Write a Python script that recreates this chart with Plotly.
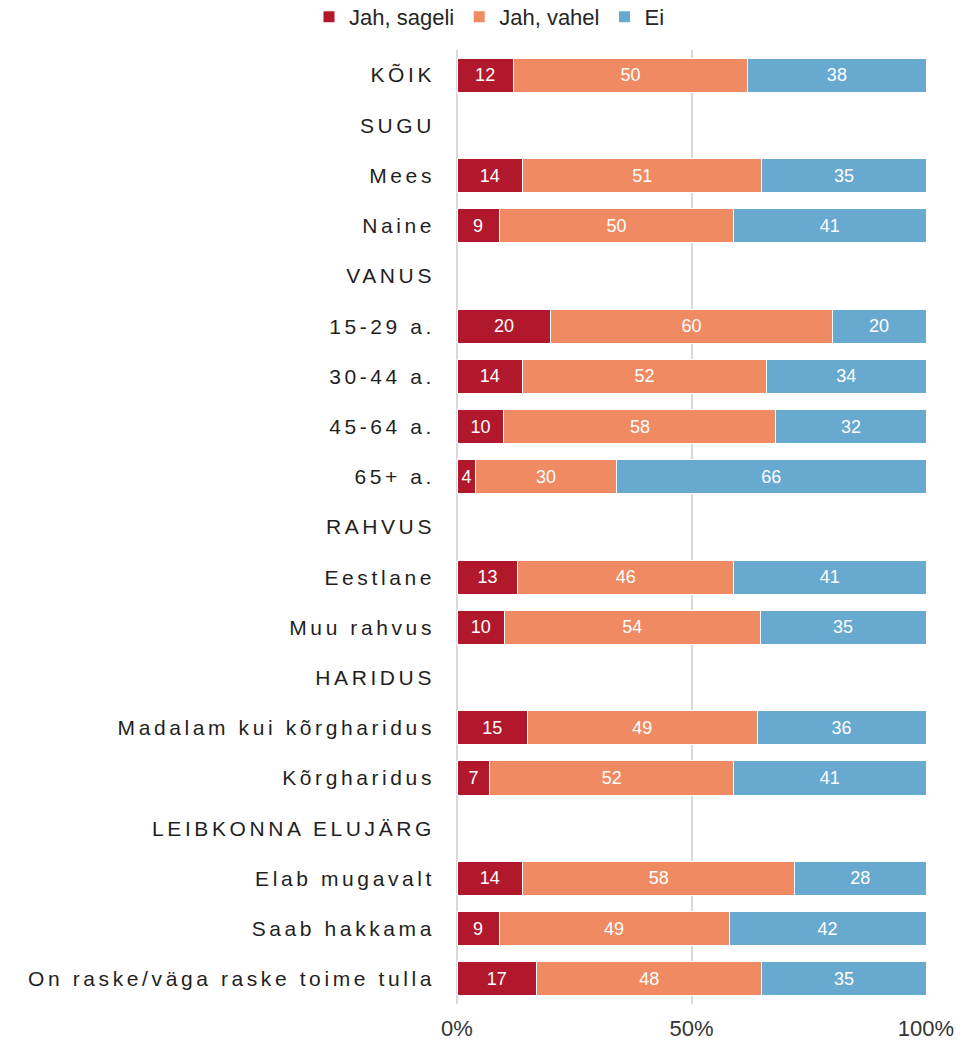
import plotly.graph_objects as go

categories = ["KÕIK", "SUGU", "Mees", "Naine", "VANUS", "15-29 a.", "30-44 a.", "45-64 a.",
              "65+ a.", "RAHVUS", "Eestlane", "Muu rahvus", "HARIDUS",
              "Madalam kui kõrgharidus", "Kõrgharidus", "LEIBKONNA ELUJÄRG",
              "Elab mugavalt", "Saab hakkama", "On raske/väga raske toime tulla"]

jah_sageli = [12, None, 14, 9, None, 20, 14, 10, 4, None, 13, 10, None, 15, 7, None, 14, 9, 17]
jah_vahel = [50, None, 51, 50, None, 60, 52, 58, 30, None, 46, 54, None, 49, 52, None, 58, 49, 48]
ei = [38, None, 35, 41, None, 20, 34, 32, 66, None, 41, 35, None, 36, 41, None, 28, 42, 35]

series_names = ["Jah, sageli", "Jah, vahel", "Ei"]
series_values = [jah_sageli, jah_vahel, ei]
colors = ["#B2182B", "#EF8A62", "#67A9CF"]

fig = go.Figure()
for name, vals, col in zip(series_names, series_values, colors):
    fig.add_trace(go.Bar(
        y=categories, x=vals, name=name, orientation="h",
        marker=dict(color=col, line=dict(color="white", width=1)),
        text=[("" if v is None else str(v)) for v in vals],
        texttemplate="%{text}", textposition="inside", insidetextanchor="middle",
        textangle=0, constraintext="none",
        textfont=dict(color="white", size=18, family="Arial, Liberation Sans, sans-serif"),
    ))

fig.update_layout(
    width=979, height=1042,
    barmode="stack", barnorm="percent", bargap=0.32,
    plot_bgcolor="white", paper_bgcolor="white",
    margin=dict(l=457, r=53, t=50, b=38, autoexpand=False),
    font=dict(family="Arial, Liberation Sans, sans-serif", color="#262626"),
    legend=dict(orientation="h", xref="container", yref="container",
                x=0.5, xanchor="center", y=1 - 17 / 1042, yanchor="middle",
                font=dict(size=22, color="#262626"), traceorder="normal",
                itemwidth=30),
    showlegend=True,
)
fig.update_xaxes(range=[0, 100], dtick=50, ticksuffix="%", showgrid=True,
                 gridcolor="#D9D9D9", gridwidth=1.5, zeroline=True,
                 zerolinecolor="#D9D9D9", zerolinewidth=1.5,
                 showline=False, tickfont=dict(size=22, color="#333333"),
                 ticklabelstandoff=9, automargin=False, fixedrange=True)
fig.update_yaxes(autorange="reversed", showgrid=False, showline=False, ticks="",
                 tickfont=dict(size=21, color="#1F1F1F"), ticklabelstandoff=21,
                 automargin=False, fixedrange=True,
                 categoryorder="array", categoryarray=categories)

post = ("var s=document.createElement('style');"
        "s.innerHTML='html,body{margin:0;padding:0;overflow:hidden;} .ytick text{letter-spacing:3.6px;}';"
        "document.head.appendChild(s);")
fig.write_html("out.html", post_script=post, config={"displayModeBar": False})
